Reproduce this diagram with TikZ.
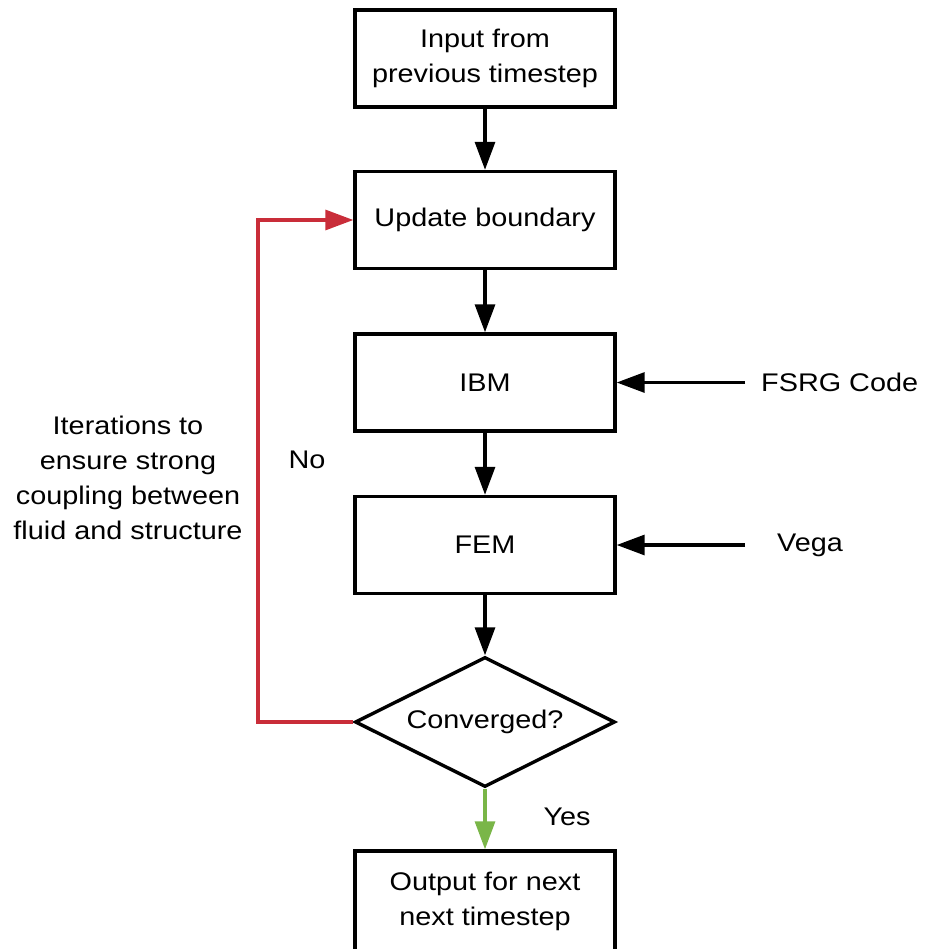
\documentclass[tikz,border=0pt]{standalone}
\usepackage{fontspec}
\setmainfont{Liberation Sans}[FakeStretch=1.13]
\usetikzlibrary{shapes.geometric,arrows.meta}
\definecolor{lred}{HTML}{C92D39}
\definecolor{lgreen}{HTML}{7AB648}
\begin{document}
\begin{tikzpicture}[x=1pt,y=-1pt,
  txt/.style={font=\fontsize{25.5}{35}\selectfont, align=center, inner sep=0pt},
  box/.style={txt, draw, line width=3.4pt, minimum width=260pt, minimum height=97pt},
  dec/.style={txt, draw, diamond, line width=3.4pt, minimum width=260pt, minimum height=130pt, aspect=2},
  arr/.style={line width=3.2pt, -{Triangle[length=28pt,width=20pt]}}]
\useasboundingbox (0,0) rectangle (927,949);
\clip (0,0) rectangle (927,949);
\node[box] (inp) at (485,58.5) {Input from\\previous timestep};
\node[box] (upd) at (485,220) {Update boundary};
\node[box] (ibm) at (485,382.5) {IBM};
\node[box] (fem) at (485,545) {FEM};
\node[dec] (conv) at (485,722) {Converged?};
\node[box, minimum height=100pt] (out) at (485,901) {Output for next\\next timestep};
\node[txt, anchor=west, inner xsep=16pt] (fsrg) at (745,382.5) {FSRG Code};
\node[txt, anchor=west, inner xsep=32pt] (vega) at (745,545) {Vega};
\node[txt] (iter) at (128,478) {Iterations to\\ensure strong\\coupling between\\fluid and structure};
\node[txt] (no) at (307,460) {No};
\node[txt] (yes) at (567,817) {Yes};
\coordinate (lc) at (258,722);
\draw[arr] (inp) -- (upd);
\draw[arr] (upd) -- (ibm);
\draw[arr] (ibm) -- (fem);
\draw[arr] (fem) -- (conv);
\draw[arr, lgreen] (conv) -- (out);
\draw[arr, lred] (conv.west) -- (lc) |- (upd.west);
\draw[arr] (fsrg.west) -- (ibm.east);
\draw[arr] (vega.west) -- (fem.east);
\end{tikzpicture}
\end{document}
